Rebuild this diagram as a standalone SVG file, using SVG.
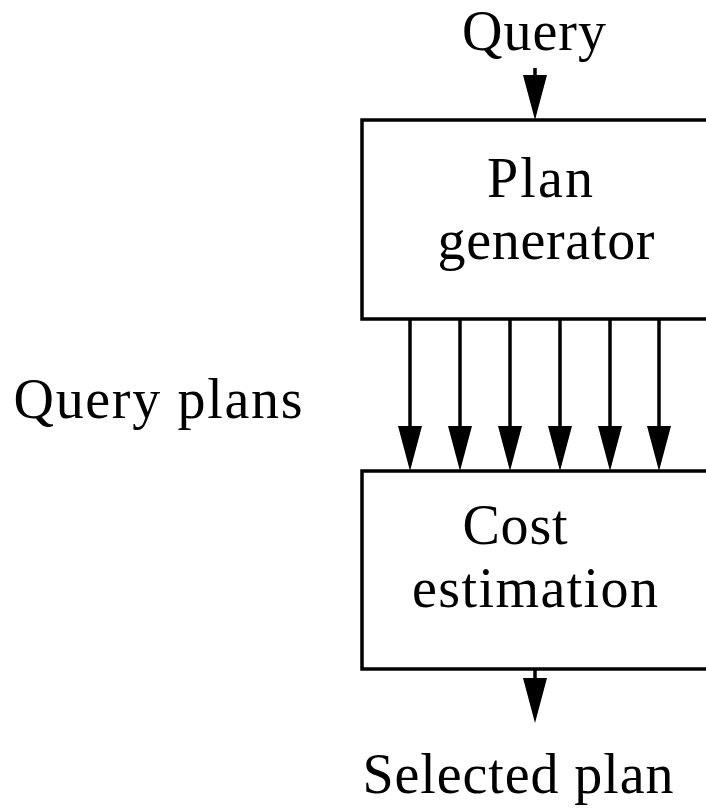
<svg xmlns="http://www.w3.org/2000/svg" width="706" height="809" viewBox="0 0 706 809">
<style>
.box{fill:#fff;stroke:#000;stroke-width:3.5}
.ln{stroke:#000;stroke-width:3.5;fill:none}
.hd{fill:#000}
text{font-family:"Liberation Serif","DejaVu Serif",serif;font-size:56px;fill:#000;text-anchor:middle}
</style>
<defs>
<path id="ah" d="M-12,-45 L12,-45 L0,0 Z"/>
</defs>
<g id="node-plan-generator">
<rect class="box" x="362" y="120" width="370" height="199"/>
<text x="540" y="197" textLength="106">Plan</text>
<text x="546" y="259" textLength="217">generator</text>
</g>
<g id="node-cost-estimation">
<rect class="box" x="362" y="471" width="370" height="198"/>
<text x="515" y="544" textLength="105">Cost</text>
<text x="535" y="607" textLength="246">estimation</text>
</g>
<g id="labels">
<text x="534" y="50" textLength="144">Query</text>
<text x="158" y="418" textLength="289">Query plans</text>
<text x="518" y="793" textLength="311">Selected plan</text>
</g>
<g id="connectors">
<line class="ln" x1="535" y1="68" x2="535" y2="90"/>
<use href="#ah" class="hd" x="535" y="120"/>
<line class="ln" x1="410" y1="319" x2="410" y2="440"/>
<use href="#ah" class="hd" x="410" y="471"/>
<line class="ln" x1="460" y1="319" x2="460" y2="440"/>
<use href="#ah" class="hd" x="460" y="471"/>
<line class="ln" x1="510" y1="319" x2="510" y2="440"/>
<use href="#ah" class="hd" x="510" y="471"/>
<line class="ln" x1="560" y1="319" x2="560" y2="440"/>
<use href="#ah" class="hd" x="560" y="471"/>
<line class="ln" x1="610" y1="319" x2="610" y2="440"/>
<use href="#ah" class="hd" x="610" y="471"/>
<line class="ln" x1="659" y1="319" x2="659" y2="440"/>
<use href="#ah" class="hd" x="659" y="471"/>
<line class="ln" x1="535" y1="669" x2="535" y2="690"/>
<use href="#ah" class="hd" x="535" y="723"/>
</g>
</svg>
